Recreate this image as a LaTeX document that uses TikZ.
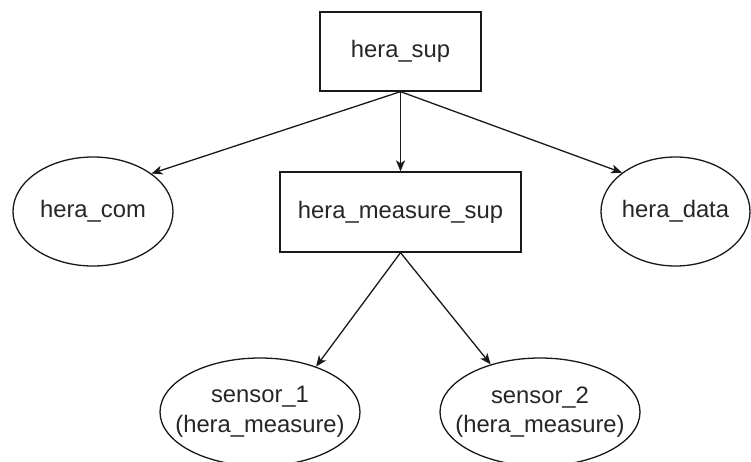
\documentclass[tikz,border=0pt]{standalone}
\usepackage{fontspec}
\setmainfont{Liberation Sans}
\usetikzlibrary{shapes.geometric,arrows.meta}

\tikzset{
  every node/.style={font=\fontsize{23.8}{29.5}\selectfont, text=black!85},
  boxnode/.style={draw=black!90, line width=1.3pt, rectangle, inner sep=0pt},
  ovalnode/.style={draw=black!90, line width=1.3pt, ellipse, inner sep=0pt},
  caption/.style={align=center, inner sep=0pt},
  link/.style={draw=black!90, line width=1.3pt,
    -{Stealth[length=11pt, width=9pt, inset=3pt]}}
}

\begin{document}
\begin{tikzpicture}[x=1pt, y=-1pt]
  \useasboundingbox (0,0) rectangle (751,461);

  % supervisors
  \node[boxnode, minimum width=161pt, minimum height=79pt] (sup) at (400.5,51.5) {hera\_sup};
  \node[boxnode, minimum width=241pt, minimum height=80pt] (msup) at (400.5,212) {hera\_measure\_sup};

  % workers under the top supervisor
  \node[ovalnode, minimum width=160pt, minimum height=109pt] (com) at (93,211.5) {};
  \node[caption] (comtext) at (com.center) {hera\_com};
  \node[ovalnode, minimum width=149pt, minimum height=109pt] (data) at (675.5,211.5) {};
  \node[caption] (datatext) at (data.center) {hera\_data};

  % sensors under the measure supervisor
  \node[ovalnode, minimum width=200pt, minimum height=108pt] (s1) at (260,412) {};
  \node[caption] (s1text) at (s1.center) {sensor\_1\\(hera\_measure)};
  \node[ovalnode, minimum width=200pt, minimum height=108pt] (s2) at (540,412) {};
  \node[caption] (s2text) at (s2.center) {sensor\_2\\(hera\_measure)};

  % supervision links
  \draw[link] (sup.south) -- (com.33);
  \draw[link] (sup.south) -- (msup.north);
  \draw[link] (sup.south) -- (data.144);
  \draw[link] (msup.south) -- (s1.39);
  \draw[link] (msup.south) -- (s2.136);
\end{tikzpicture}
\end{document}
